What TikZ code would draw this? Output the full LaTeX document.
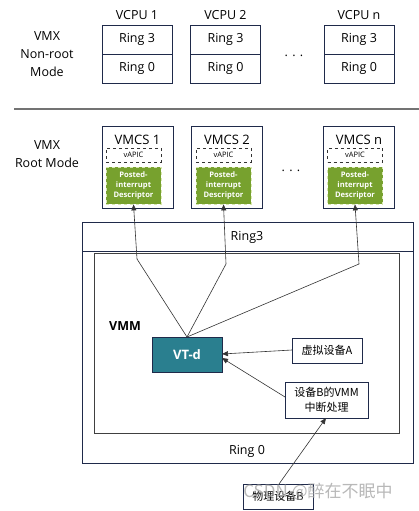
\documentclass[tikz,border=0pt]{standalone}
\usepackage{fontspec}
\setmainfont{Open Sans}
\newfontfamily\cjk{Noto Sans CJK SC}
\usetikzlibrary{arrows.meta}
\definecolor{navy}{HTML}{1F2A4A}
\definecolor{pgreen}{HTML}{77A12E}
\definecolor{teal2}{HTML}{2A7F8F}
\definecolor{lgreen}{HTML}{D8E8B0}
\tikzset{
  box/.style={draw=navy, line width=0.8pt, inner sep=0pt, font=\fontsize{12.5}{14}\selectfont},
  lbl/.style={inner sep=0pt, font=\fontsize{12.5}{18}\selectfont, align=center},
  vapic/.style={draw=black!80, dashed, line width=0.7pt, minimum width=55pt, minimum height=14pt, inner sep=0pt, font=\fontsize{7.5}{8}\selectfont},
  pid/.style={draw=lgreen, dashed, line width=0.8pt, fill=pgreen, text=white, minimum width=55pt, minimum height=37pt, inner sep=0pt, align=center, font=\bfseries\fontsize{7.6}{10}\selectfont},
  cbox/.style={draw=navy, line width=0.8pt, inner sep=0pt, align=center, font=\cjk\fontsize{11}{15}\selectfont},
  conn/.style={draw=black!80, line width=0.6pt},
  arr/.style={conn, -{Triangle[length=6pt,width=5pt]}},
}
\begin{document}
\begin{tikzpicture}[x=1pt,y=-1pt]
\useasboundingbox (0,0) rectangle (419,511);
% Non-root
\node[lbl] (nonroot) at (47,54) {VMX\\Non-root\\Mode};
\foreach \n/\x/\t in {1/137/VCPU 1,2/225.5/VCPU 2,3/359/VCPU n}{
  \node[lbl] (vc\n) at (\x,15) {\t};
  \node[box, minimum width=70pt, minimum height=29pt] (r3\n) at (\x,39.5) {Ring 3};
  \node[box, minimum width=70pt, minimum height=29pt] (r0\n) at (\x,68.5) {Ring 0};
}
\node[lbl] (dots1) at (294,56) {. . .};
% separator
\coordinate (sepL) at (14,109);
\coordinate (sepR) at (419,109);
\draw[black!55, line width=2pt] (sepL) -- (sepR);
% Root
\node[lbl] (root) at (47,154.5) {VMX\\Root Mode};
\foreach \n/\x/\g/\t in {1/137.5/133.5/VMCS 1,2/227/223.5/VMCS 2,3/359/355/VMCS n}{
  \node[box, minimum width=71pt, minimum height=82pt] (vm\n) at (\x,167) {};
  \node[lbl, font=\fontsize{13}{15}\selectfont] (vmt\n) at (\x,140) {\t};
  \node[vapic] (va\n) at (\g,155) {vAPIC};
  \node[pid] (g\n) at (\g,185.5) {Posted-\\interrupt\\Descriptor};
}
\node[lbl] (dots2) at (291,171) {. . .};
% Ring box
\node[box, minimum width=331pt, minimum height=241pt] (ring) at (247.5,342.5) {};
\coordinate (divL) at (82,251);
\coordinate (divR) at (413,251);
\draw[navy, line width=0.8pt] (divL) -- (divR);
\node[lbl] (ring3) at (247,237) {Ring3};
\node[lbl] (ring0) at (247,451) {Ring 0};
% VMM
\node[draw=black!75, line width=0.8pt, minimum width=305pt, minimum height=180pt, inner sep=0pt] (vmm) at (246.5,343) {};
\node[lbl, font=\bfseries\fontsize{12.5}{14}\selectfont] (vmmt) at (125,326) {VMM};
\node[draw=navy, line width=0.8pt, fill=teal2, text=white, minimum width=70pt, minimum height=35pt, inner sep=0pt, font=\bfseries\fontsize{13}{15}\selectfont] (vtd) at (187,354.5) {VT-d};
\node[cbox, minimum width=70pt, minimum height=25pt] (va) at (327,350.5) {虚拟设备A};
\node[cbox, minimum width=83pt, minimum height=36pt] (vb) at (326.5,400) {设备B的VMM\\中断处理};
\node[cbox, minimum width=70pt, minimum height=25pt] (pb) at (278,496.5) {物理设备B};
% connectors
\coordinate (k1) at (137,259);
\coordinate (k2) at (226,264);
\coordinate (k3) at (359,264);
\coordinate (vtdtop) at (187,337);
\draw[arr] (vtdtop) -- (k1) -- (g1.south);
\draw[arr] (vtdtop) -- (k2) -- (g2.south);
\draw[arr] (vtdtop) -- (k3) -- (g3.south);
\coordinate (vtdr1) at (222,354);
\coordinate (vtdr2) at (222,358);
\coordinate (val) at (292,350);
\coordinate (vbl) at (285,397);
\draw[arr] (val) -- (vtdr1);
\draw[arr] (vbl) -- (vtdr2);
\coordinate (pbt) at (279,484);
\coordinate (vbb) at (326,418);
\draw[arr] (pbt) -- (vbb);
% watermark
\node[inner sep=0pt, text=black!35, opacity=0.8, font=\cjk\fontsize{17}{19}\selectfont] (wm) at (318,492) {CSDN @醉在不眠中};
\end{tikzpicture}
\end{document}
